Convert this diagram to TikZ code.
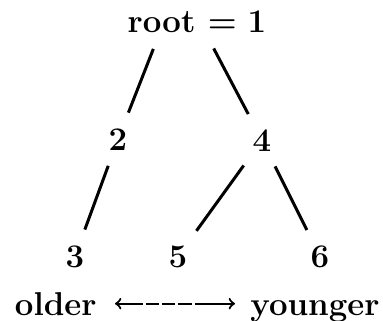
\documentclass[tikz,border=0pt]{standalone}
\begin{document}
\begin{tikzpicture}[x=0.5pt,y=-0.5pt,
  every node/.style={font=\fontsize{16.5}{19}\selectfont\bfseries, inner sep=3pt},
  branch/.style={line width=1.5pt, shorten <=5pt, shorten >=5pt}]
\useasboundingbox (0,0) rectangle (383,320);
\node[anchor=base] (root) at (197,33) {root =\,\,1};
\node[anchor=base] (n2) at (118,150) {2};
\node[anchor=base] (n4) at (262,151) {4};
\node[anchor=base] (n3) at (75,267) {3};
\node[anchor=base] (n5) at (178,267) {5};
\node[anchor=base] (n6) at (320,267) {6};
\node[anchor=base east] (older) at (103,315) {older};
\node[anchor=base west] (younger) at (244,315) {younger};
\draw[branch] ([xshift=-20pt]root.south) -- (n2);
\draw[branch] ([xshift=6pt]root.south) -- (n4);
\draw[branch] (n2) -- (n3);
\draw[branch] (n4) -- (n5);
\draw[branch] (n4) -- (n6);
\draw[<->, line width=1.1pt, shorten <=6pt, shorten >=4.5pt,
  dash pattern=on 13pt off 1.5pt on 6.5pt off 1.5pt on 6.5pt off 1.5pt on 7pt off 1.5pt on 20pt]
  (older.east) -- (older.east -| younger.west);
\end{tikzpicture}
\end{document}
